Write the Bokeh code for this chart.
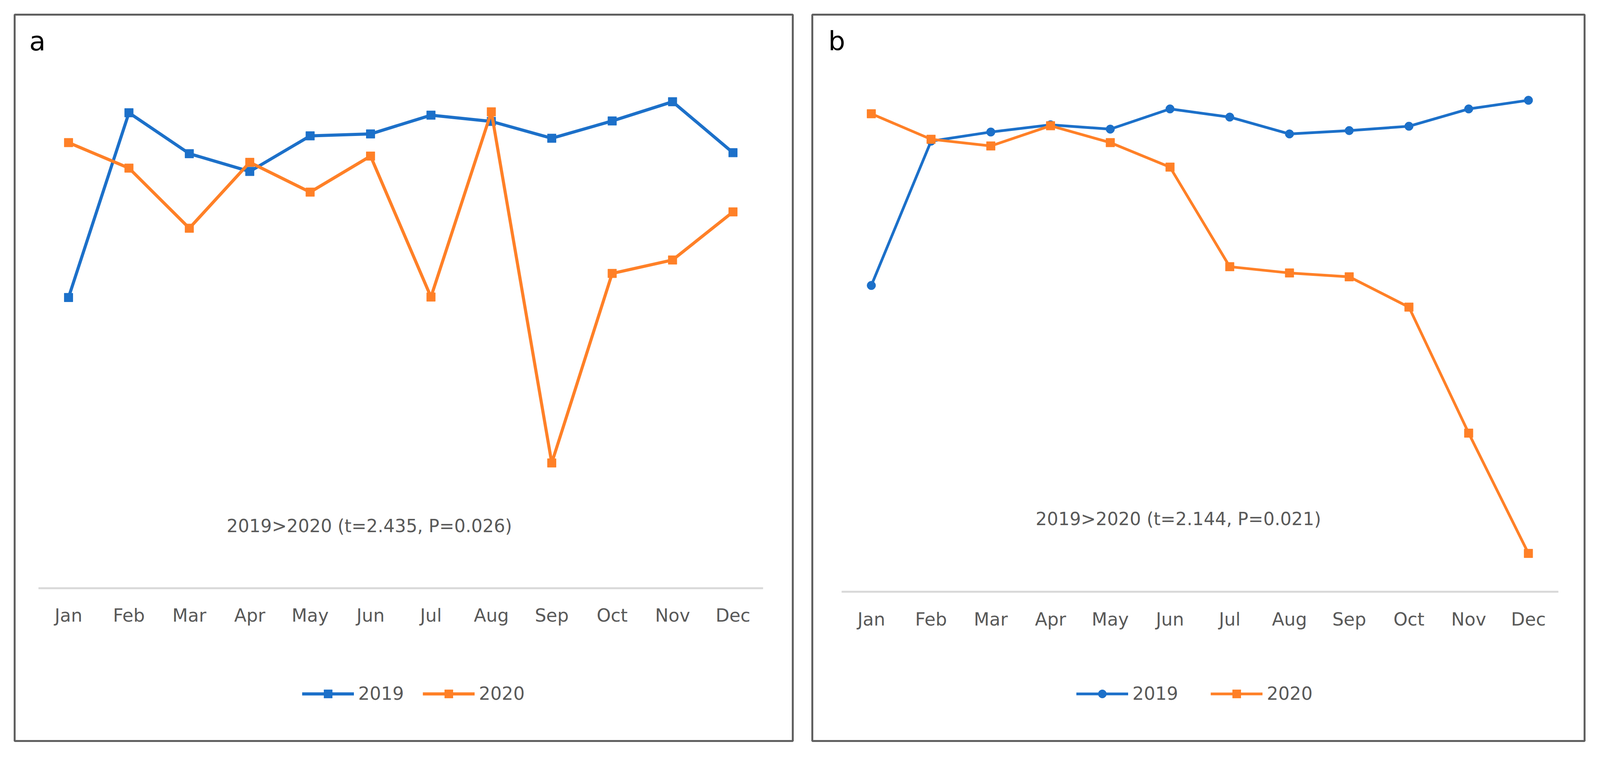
from bokeh.plotting import figure
from bokeh.models import Range1d, FixedTicker, Label, Legend, LegendItem
from bokeh.layouts import row
from bokeh.embed import file_html
from bokeh.resources import INLINE

# ---------------- data ----------------
months = ["Jan", "Feb", "Mar", "Apr", "May", "Jun",
          "Jul", "Aug", "Sep", "Oct", "Nov", "Dec"]
series_names = ["2019", "2020"]

a_2019 = [604, 988, 903, 866, 940, 944, 983, 970, 935, 971, 1011, 905]
a_2020 = [926, 873, 748, 885, 823, 898, 605, 990, 260, 654, 682, 782]

b_2019 = [637, 937, 956, 971, 962, 1004, 987, 952, 959, 968, 1004, 1022]
b_2020 = [994, 941, 927, 969, 934, 883, 676, 663, 655, 592, 330, 80]

panel_labels = ["a", "b"]
stats_text = ["2019>2020 (t=2.435, P=0.026)", "2019>2020 (t=2.144, P=0.021)"]

BLUE = "#1C70C9"
ORANGE = "#FF8027"
GREY_TXT = "#595959"
FONT = "DejaVu Sans"


def make_panel(v19, v20, letter, stat, marker19, xr, yr, frame_w, bl, br,
               stat_pos, letter_pos, leg_loc, leg_spacing, lw):
    p = figure(frame_width=frame_w, frame_height=1859,
               x_range=Range1d(*xr), y_range=Range1d(*yr),
               output_backend="svg", toolbar_location=None,
               y_axis_location=None,
               min_border_left=bl, min_border_right=br,
               min_border_top=37, min_border_bottom=22)
    p.grid.visible = False
    p.background_fill_color = "white"
    p.border_fill_color = "white"
    p.outline_line_color = "#606060"
    p.outline_line_width = 5

    ax = p.xaxis[0]
    ax.fixed_location = 0
    ax.ticker = FixedTicker(ticks=list(range(len(months))))
    ax.major_label_overrides = {i: m for i, m in enumerate(months)}
    ax.bounds = (-0.5, len(months) - 0.5)
    ax.axis_line_color = "#d9d9d9"
    ax.axis_line_width = 5
    ax.major_tick_line_color = None
    ax.minor_tick_line_color = None
    ax.major_tick_out = 0
    ax.major_label_standoff = 43
    ax.major_label_text_font = FONT
    ax.major_label_text_font_size = "46px"
    ax.major_label_text_color = GREY_TXT

    xs = list(range(len(months)))
    r1 = p.line(xs, v19, line_color=BLUE, line_width=lw)
    s1 = p.scatter(xs, v19, marker=marker19, size=22,
                   fill_color=BLUE, line_color=BLUE)
    r2 = p.line(xs, v20, line_color=ORANGE, line_width=lw)
    s2 = p.scatter(xs, v20, marker="square", size=22,
                   fill_color=ORANGE, line_color=ORANGE)

    legend = Legend(items=[LegendItem(label=series_names[0], renderers=[r1, s1]),
                           LegendItem(label=series_names[1], renderers=[r2, s2])],
                    orientation="horizontal", location=leg_loc,
                    glyph_width=133, glyph_height=53, label_height=53,
                    label_standoff=11, spacing=leg_spacing,
                    padding=0, margin=0, border_line_color=None,
                    background_fill_alpha=0,
                    label_text_font=FONT, label_text_font_size="46px",
                    label_text_color=GREY_TXT)
    p.add_layout(legend, "center")

    p.add_layout(Label(x=stat_pos[0], y=stat_pos[1], text=stat,
                       text_align="center", text_baseline="middle",
                       text_font=FONT, text_font_size="45.5px",
                       text_color=GREY_TXT))
    p.add_layout(Label(x=letter_pos[0], y=letter_pos[1], text=letter,
                       text_align="left", text_baseline="alphabetic",
                       text_font=FONT, text_font_size="68px",
                       text_color="black"))
    return p


pa = make_panel(a_2019, a_2020, panel_labels[0], stats_text[0], "square",
                (-0.892, 11.99), (-318, 1192), 1992, 37, 25,
                (4.98, 129), (-0.65, 1137), (736, 94), 48, 8)
pb = make_panel(b_2019, b_2020, panel_labels[1], stats_text[1], "circle",
                (-0.988, 11.94), (-310, 1200), 1977, 25, 30,
                (5.14, 151), (-0.72, 1145), (676, 94), 83, 7)

layout = row(pa, pb)
open("out.html", "w").write(file_html(layout, INLINE))
